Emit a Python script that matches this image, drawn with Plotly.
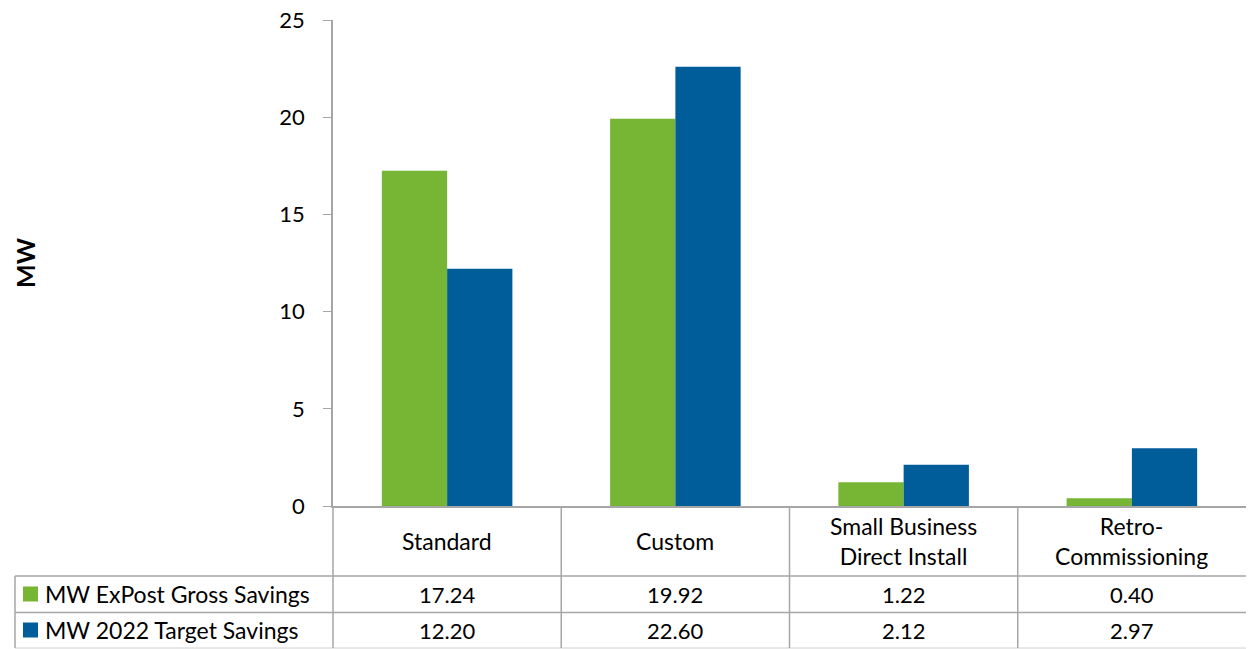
import plotly.graph_objects as go

categories = ["Standard", "Custom", "Small Business<br>Direct Install", "Retro-<br>Commissioning"]
series_names = ["MW ExPost Gross Savings", "MW 2022 Target Savings"]
expost = [17.24, 19.92, 1.22, 0.40]
target = [12.20, 22.60, 2.12, 2.97]
y_ticks = [0, 5, 10, 15, 20, 25]

GREEN = "#77B535"
BLUE = "#005D9A"
LINE = "#A6A6A6"
FONT = "Lato"
TXT = "#000000"
WORD_SIZE = 23
NUM_SIZE = 22

W, H = 1248, 649
L, R, T, B = 333, 2, 20, 143
pw = W - L - R
ph = H - T - B

def px(x):
    return (x - L) / pw

def py(y):
    return (H - B - y) / ph

fig = go.Figure()
fig.add_bar(x=list(range(len(categories))), y=expost, name=series_names[0], marker=dict(color=GREEN, line=dict(width=0)))
fig.add_bar(x=list(range(len(categories))), y=target, name=series_names[1], marker=dict(color=BLUE, line=dict(width=0)))

shapes = []
annotations = []
y_row1 = py(576)
y_row2 = py(612.5)
y_bot = py(648)
# horizontal table lines
shapes.append(dict(type="line", xref="paper", yref="paper", x0=px(15), x1=1, y0=y_row1, y1=y_row1, line=dict(color=LINE, width=1.5)))
shapes.append(dict(type="line", xref="paper", yref="paper", x0=px(15), x1=1, y0=y_row2, y1=y_row2, line=dict(color=LINE, width=1.5)))
shapes.append(dict(type="line", xref="paper", yref="paper", x0=px(15), x1=1, y0=y_bot, y1=y_bot, line=dict(color="#D0D0D0", width=1)))
# vertical lines
shapes.append(dict(type="line", xref="paper", yref="paper", x0=px(15), x1=px(15), y0=y_row1, y1=y_bot, line=dict(color=LINE, width=1.5)))
shapes.append(dict(type="line", xref="paper", yref="paper", x0=0, x1=0, y0=0, y1=y_bot, line=dict(color=LINE, width=1.5)))
for i in range(len(categories) - 1):
    shapes.append(dict(type="line", xref="x", yref="paper", x0=i + 0.5, x1=i + 0.5, y0=0, y1=y_bot, line=dict(color=LINE, width=1.5)))

# category labels & values
for i, c in enumerate(categories):
    annotations.append(dict(x=i, y=py(541), xref="x", yref="paper", text=c, showarrow=False,
                            font=dict(family=FONT, size=WORD_SIZE, color=TXT), xanchor="center", yanchor="middle"))
    annotations.append(dict(x=i, y=py(594), xref="x", yref="paper", text=f"{expost[i]:.2f}", showarrow=False,
                            font=dict(family=FONT, size=NUM_SIZE, color=TXT), xanchor="center", yanchor="middle"))
    annotations.append(dict(x=i, y=py(630), xref="x", yref="paper", text=f"{target[i]:.2f}", showarrow=False,
                            font=dict(family=FONT, size=NUM_SIZE, color=TXT), xanchor="center", yanchor="middle"))

# legend keys in table
for name, col, ypix in [(series_names[0], GREEN, 594), (series_names[1], BLUE, 630)]:
    shapes.append(dict(type="rect", xref="paper", yref="paper", x0=px(23), x1=px(38), y0=py(ypix - 7.5), y1=py(ypix + 7.5),
                       fillcolor=col, line=dict(width=0)))
    annotations.append(dict(x=px(43), y=py(ypix), xref="paper", yref="paper", text=name, showarrow=False,
                            font=dict(family=FONT, size=WORD_SIZE, color=TXT), xanchor="left", yanchor="middle"))

# y-axis title
annotations.append(dict(x=px(25), y=py(263), xref="paper", yref="paper", text="<b>MW</b>", textangle=-90, showarrow=False,
                        font=dict(family=FONT, size=25, color=TXT), xanchor="center", yanchor="middle"))

fig.update_layout(
    width=W, height=H,
    margin=dict(l=L, r=R, t=T, b=B, pad=0),
    plot_bgcolor="white", paper_bgcolor="white",
    barmode="group", bargap=0.428, bargroupgap=0,
    showlegend=False,
    shapes=shapes, annotations=annotations,
    xaxis=dict(range=[-0.5, len(categories) - 0.5], showticklabels=False, showgrid=False, zeroline=False,
               showline=True, linecolor=LINE, linewidth=1.5, ticks=""),
    yaxis=dict(range=[0, 25], tickvals=y_ticks, ticktext=[str(v) for v in y_ticks], showgrid=False, zeroline=False,
               showline=True, linecolor=LINE, linewidth=1.5, ticks="outside", ticklen=8, tickcolor=LINE,
               ticklabelstandoff=14,
               tickfont=dict(family=FONT, size=NUM_SIZE, color=TXT)),
)

fig.write_html("out.html")
